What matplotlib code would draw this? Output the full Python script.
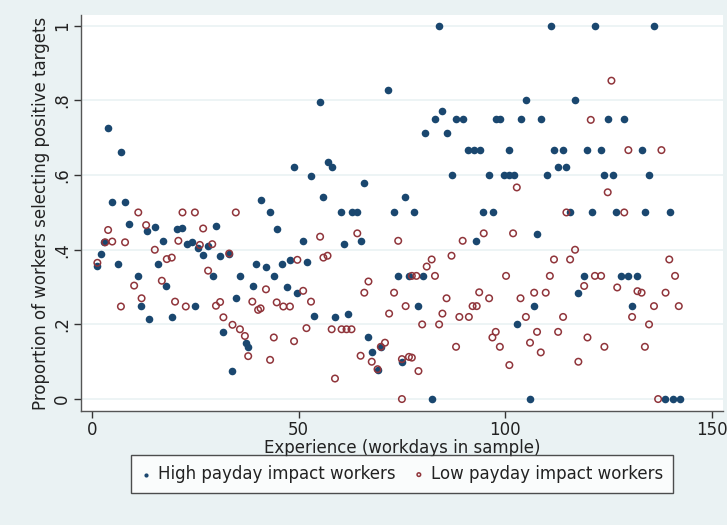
import matplotlib.pyplot as plt

# experience (days) and share of positive targets, high-impact workers
high_x = [1.1, 2.1, 2.9, 3.9, 4.8, 6.2, 7.0, 8.0, 9.0, 11.2, 11.9, 13.2, 13.8, 15.2,
          16.0, 17.1, 17.9, 19.3, 20.5, 21.7, 22.9, 24.3, 24.9, 25.7, 26.9, 28.1,
          29.2, 30.0, 31.0, 31.8, 33.2, 34.0, 34.8, 35.8, 37.3, 37.8,
          38.9, 39.8, 40.8, 42.0, 43.1, 44.0, 44.8, 46.1, 47.1, 47.9, 48.9, 49.7,
          51.1, 52.1, 53.0, 53.8, 55.2, 56.0, 57.0, 58.0, 58.8, 60.2, 61.0, 61.9,
          62.8, 64.2, 65.1, 65.9, 66.9, 67.7, 69.1, 69.9, 71.7, 73.1, 74.0, 75.0,
          75.7, 76.6, 78.0, 80.0,
          79.0, 80.7, 82.2, 83.0, 84.0, 84.8, 85.8, 87.0, 88.2, 89.8, 91.0, 92.4,
          92.9, 93.9, 94.7, 96.1, 97.0, 97.7, 98.8, 99.8, 100.9, 101.0, 102.1,
          102.8, 103.7, 105.0, 106.0, 107.0, 107.6, 108.6, 110.0, 111.0, 111.8,
          112.7, 114.0, 114.8, 115.7, 116.9, 117.7, 119.1, 119.9, 120.9, 121.7,
          123.2, 124.0, 124.8, 126.0, 126.9, 128.0, 128.8, 129.8, 130.7, 132.0,
          133.0, 133.8, 134.8, 136.0, 138.6, 139.9, 140.7, 142.3]
high_y = [0.357, 0.388, 0.42, 0.727, 0.529, 0.361, 0.662, 0.529, 0.469, 0.33, 0.248, 0.45, 0.215, 0.46,
          0.361, 0.424, 0.303, 0.219, 0.455, 0.457, 0.415, 0.422, 0.249, 0.406, 0.386, 0.41,
          0.33, 0.465, 0.384, 0.179, 0.388, 0.075, 0.27, 0.33, 0.151, 0.14,
          0.303, 0.361, 0.534, 0.355, 0.5, 0.331, 0.455, 0.361, 0.301, 0.373, 0.623, 0.285,
          0.424, 0.366, 0.598, 0.223, 0.797, 0.542, 0.634, 0.623, 0.219, 0.5, 0.415, 0.229,
          0.5, 0.5, 0.424, 0.578, 0.165, 0.125, 0.078, 0.14, 0.827, 0.5, 0.331, 0.10,
          0.542, 0.331, 0.5, 0.33,
          0.249, 0.714, 0.0, 0.75, 1.0, 0.772, 0.714, 0.6, 0.75, 0.75, 0.667, 0.667,
          0.424, 0.667, 0.5, 0.6, 0.5, 0.75, 0.75, 0.6, 0.6, 0.667, 0.6,
          0.2, 0.75, 0.8, 0.0, 0.249, 0.442, 0.75, 0.6, 1.0, 0.667,
          0.623, 0.667, 0.623, 0.5, 0.8, 0.285, 0.33, 0.667, 0.5, 1.0,
          0.667, 0.6, 0.75, 0.6, 0.5, 0.33, 0.75, 0.33, 0.249, 0.33,
          0.667, 0.5, 0.6, 1.0, 0.0, 0.5, 0.0, 0.0]

# same for low-impact workers
low_x = [1.3, 3.2, 3.9, 4.9, 7.0, 8.0, 10.2, 11.2, 12.0, 13.1, 15.2, 16.9, 18.1, 19.3,
         20.1, 20.9, 21.9, 22.7, 24.9, 26.1, 26.9, 28.1, 29.1, 30.0, 31.0, 31.8, 33.2,
         34.0, 34.8, 35.8, 37.0, 37.8,
         38.8, 40.2, 40.8, 42.1, 43.1, 44.0, 44.7, 46.3, 47.9, 48.9, 49.7, 51.1, 51.9,
         53.0, 55.2, 56.0, 57.0, 58.0, 58.8, 60.4, 61.6, 62.8, 64.2, 65.0, 65.9, 66.9,
         67.7, 69.1, 69.9, 70.9, 71.9, 73.1, 74.1, 75.0, 75.0, 75.9, 76.7, 77.4, 78.5,
         77.4, 79.0,
         79.9, 81.0, 82.2, 83.0, 84.0, 84.8, 85.8, 87.0, 88.1, 88.9, 89.7, 91.2, 92.1,
         93.1, 93.7, 94.8, 96.1, 96.9, 97.7, 98.7, 100.2, 101.0, 101.9, 102.8, 103.7,
         105.0, 106.0, 107.0, 107.7, 108.6, 109.8, 110.8, 111.8, 112.8, 114.0, 114.8,
         115.7, 116.9, 117.7, 119.1, 119.9, 120.7, 121.7, 123.2, 124.0, 124.8, 125.7,
         127.1, 128.8, 129.8, 130.7, 132.0, 133.0, 133.8, 134.8, 136.0, 137.0, 137.8,
         138.8, 139.7, 141.1, 142.0]
low_y = [0.365, 0.42, 0.453, 0.422, 0.248, 0.42, 0.304, 0.5, 0.27, 0.466, 0.40, 0.317, 0.375, 0.379,
         0.261, 0.424, 0.5, 0.248, 0.5, 0.413, 0.457, 0.344, 0.415, 0.25, 0.26, 0.219, 0.39,
         0.199, 0.5, 0.187, 0.169, 0.115,
         0.261, 0.239, 0.243, 0.294, 0.105, 0.165, 0.259, 0.248, 0.248, 0.155, 0.373, 0.29, 0.19,
         0.261, 0.435, 0.379, 0.384, 0.187, 0.055, 0.187, 0.187, 0.187, 0.444, 0.116, 0.285, 0.315,
         0.1, 0.08, 0.14, 0.151, 0.229, 0.285, 0.424, 0.107, 0.0, 0.249, 0.113, 0.33, 0.33,
         0.111, 0.075,
         0.2, 0.355, 0.374, 0.33, 0.2, 0.229, 0.27, 0.384, 0.14, 0.22, 0.424, 0.22, 0.249,
         0.249, 0.286, 0.444, 0.27, 0.165, 0.18, 0.14, 0.33, 0.091, 0.444, 0.567, 0.27,
         0.22, 0.151, 0.285, 0.18, 0.125, 0.285, 0.33, 0.374, 0.18, 0.22, 0.5,
         0.374, 0.4, 0.1, 0.303, 0.165, 0.748, 0.33, 0.33, 0.14, 0.554, 0.853,
         0.299, 0.5, 0.667, 0.22, 0.289, 0.285, 0.14, 0.2, 0.249, 0.0, 0.667,
         0.285, 0.374, 0.33, 0.249]

x_ticks = [0, 50, 100, 150]
y_ticks = [0, 0.2, 0.4, 0.6, 0.8, 1.0]
y_labels = ['0', '.2', '.4', '.6', '.8', '1']

plt.rcParams['font.family'] = ['DejaVu Sans']

bg = '#EAF2F3'
navy = '#1A476F'
maroon = '#90353B'
ink = '#222222'

fig = plt.figure(figsize=(7.27, 5.25), dpi=100, facecolor=bg)
ax = fig.add_axes([81 / 727, 114 / 525, 642 / 727, 396 / 525])
ax.set_facecolor('white')

ax.scatter(high_x, high_y, s=30, color=navy, linewidths=0, zorder=3,
           label='High payday impact workers')
ax.scatter(low_x, low_y, s=22, facecolors='none', edgecolors=maroon,
           linewidths=1.1, zorder=3, label='Low payday impact workers')

ax.set_xlim(-2.66, 152.7)
ax.set_ylim(-0.032, 1.029)
ax.set_xticks(x_ticks)
ax.set_yticks(y_ticks)
ax.set_yticklabels(y_labels, rotation=90, va='center')
ax.tick_params(labelsize=12, length=5, width=1, color='#333333', pad=2,
               labelcolor=ink)
ax.grid(axis='y', color=bg, linewidth=1.2, zorder=0)

for side in ['top', 'right']:
    ax.spines[side].set_visible(False)
for side in ['left', 'bottom']:
    ax.spines[side].set_color('#555555')
    ax.spines[side].set_linewidth(1)

ax.set_xlabel('Experience (workdays in sample)', fontsize=12, labelpad=0,
              color=ink)
ax.set_ylabel('Proportion of workers selecting positive targets', fontsize=12,
              labelpad=2, color=ink)

leg = fig.legend(loc='center', bbox_to_anchor=(402 / 727, 1 - 474 / 525), ncol=2,
                 fontsize=12, frameon=True, fancybox=False, edgecolor=ink,
                 markerscale=0.55, handletextpad=0.4, columnspacing=1.1,
                 handlelength=0.6, borderpad=0.6, labelcolor=ink)
leg.get_frame().set_linewidth(1)

fig.savefig('out.png', dpi=100, facecolor=bg)
